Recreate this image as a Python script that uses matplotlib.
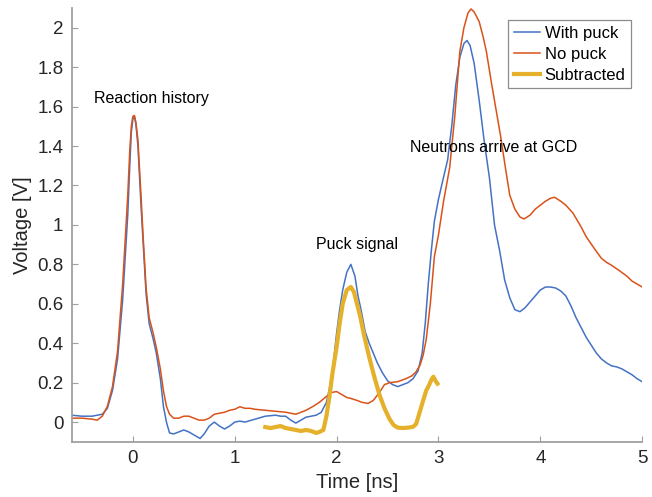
import matplotlib.pyplot as plt
import numpy as np

plt.rcParams['font.family'] = ['Liberation Sans', 'DejaVu Sans']

# ------------------- DATA -------------------
t_with = [-0.6, -0.5, -0.4, -0.3, -0.25, -0.2, -0.15, -0.1, -0.05, -0.03, -0.015, 0.0, 0.015,
          0.03, 0.05, 0.08, 0.1, 0.13, 0.16, 0.2, 0.23, 0.27, 0.3, 0.33, 0.36, 0.4, 0.45, 0.5,
          0.55, 0.6, 0.66, 0.7, 0.75, 0.8, 0.85, 0.9, 0.95, 1.0, 1.05, 1.1, 1.2, 1.3, 1.4, 1.45,
          1.5, 1.55, 1.6, 1.65, 1.7, 1.75, 1.8, 1.85, 1.9, 1.93, 1.96, 2.0, 2.03, 2.06, 2.1, 2.14,
          2.18, 2.21, 2.24, 2.28, 2.32, 2.36, 2.4, 2.45, 2.5, 2.55, 2.6, 2.65, 2.7, 2.75, 2.8,
          2.84, 2.87, 2.9, 2.93, 2.96, 3.0, 3.04, 3.09, 3.13, 3.17, 3.21, 3.25, 3.28, 3.31, 3.35,
          3.4, 3.45, 3.5, 3.55, 3.6, 3.65, 3.7, 3.75, 3.8, 3.85, 3.9, 3.95, 4.0, 4.05, 4.1, 4.15,
          4.2, 4.25, 4.3, 4.35, 4.4, 4.45, 4.5, 4.55, 4.6, 4.65, 4.7, 4.75, 4.8, 4.85, 4.9, 4.95,
          5.0]
v_with = [0.035, 0.03, 0.03, 0.04, 0.07, 0.16, 0.32, 0.62, 1.05, 1.3, 1.47, 1.535, 1.55, 1.51,
          1.4, 1.1, 0.92, 0.65, 0.5, 0.42, 0.35, 0.22, 0.08, 0.0, -0.055, -0.06, -0.05, -0.04,
          -0.05, -0.065, -0.083, -0.06, -0.02, 0.0, -0.02, -0.035, -0.02, 0.0, 0.005, 0.0, 0.015,
          0.03, 0.035, 0.03, 0.03, 0.01, -0.005, 0.01, 0.025, 0.03, 0.035, 0.05, 0.1, 0.17, 0.26,
          0.45, 0.57, 0.67, 0.76, 0.80, 0.74, 0.64, 0.57, 0.46, 0.4, 0.35, 0.3, 0.25, 0.21, 0.19,
          0.18, 0.19, 0.2, 0.22, 0.26, 0.35, 0.5, 0.7, 0.87, 1.02, 1.13, 1.22, 1.33, 1.5, 1.71,
          1.85, 1.92, 1.935, 1.91, 1.82, 1.63, 1.42, 1.24, 1.0, 0.87, 0.72, 0.63, 0.57, 0.56,
          0.58, 0.61, 0.64, 0.67, 0.685, 0.685, 0.68, 0.665, 0.64, 0.59, 0.53, 0.48, 0.43, 0.39,
          0.35, 0.32, 0.3, 0.285, 0.28, 0.27, 0.255, 0.24, 0.22, 0.205]

t_no = [-0.6, -0.5, -0.4, -0.35, -0.3, -0.25, -0.2, -0.15, -0.1, -0.05, -0.03, -0.015, 0.0,
        0.015, 0.03, 0.05, 0.08, 0.1, 0.13, 0.16, 0.2, 0.23, 0.27, 0.3, 0.33, 0.36, 0.4, 0.45,
        0.5, 0.55, 0.6, 0.65, 0.7, 0.75, 0.8, 0.85, 0.9, 0.95, 1.0, 1.05, 1.1, 1.15, 1.2, 1.3,
        1.4, 1.5, 1.6, 1.65, 1.7, 1.77, 1.83, 1.9, 1.95, 2.0, 2.05, 2.1, 2.14, 2.2, 2.25, 2.31,
        2.36, 2.42, 2.47, 2.52, 2.6, 2.68, 2.74, 2.78, 2.82, 2.85, 2.88, 2.92, 2.96, 3.0, 3.05,
        3.11, 3.16, 3.21, 3.25, 3.29, 3.32, 3.35, 3.4, 3.44, 3.47, 3.52, 3.57, 3.61, 3.66, 3.7,
        3.75, 3.8, 3.84, 3.9, 3.95, 4.0, 4.05, 4.1, 4.14, 4.2, 4.25, 4.32, 4.4, 4.45, 4.53, 4.6,
        4.65, 4.7, 4.77, 4.85, 4.9, 4.95, 5.0]
v_no = [0.02, 0.02, 0.015, 0.01, 0.03, 0.08, 0.18, 0.36, 0.7, 1.15, 1.38, 1.5, 1.55, 1.555,
        1.52, 1.43, 1.15, 0.95, 0.68, 0.53, 0.45, 0.38, 0.27, 0.16, 0.08, 0.04, 0.02, 0.02, 0.03,
        0.03, 0.02, 0.01, 0.01, 0.02, 0.04, 0.045, 0.05, 0.06, 0.065, 0.078, 0.07, 0.07, 0.065,
        0.06, 0.055, 0.05, 0.04, 0.05, 0.06, 0.08, 0.1, 0.13, 0.15, 0.155, 0.14, 0.125, 0.12,
        0.11, 0.1, 0.095, 0.11, 0.15, 0.19, 0.2, 0.205, 0.22, 0.235, 0.255, 0.29, 0.34, 0.42,
        0.6, 0.84, 0.95, 1.12, 1.29, 1.55, 1.88, 2.0, 2.075, 2.095, 2.08, 2.03, 1.95, 1.88, 1.72,
        1.57, 1.45, 1.28, 1.15, 1.08, 1.04, 1.03, 1.05, 1.08, 1.1, 1.12, 1.135, 1.14, 1.12, 1.1,
        1.06, 0.99, 0.94, 0.88, 0.83, 0.81, 0.795, 0.77, 0.74, 0.715, 0.7, 0.685]

t_sub = [1.3, 1.35, 1.4, 1.45, 1.5, 1.55, 1.6, 1.65, 1.7, 1.75, 1.8, 1.83, 1.87, 1.9, 1.93, 1.96,
         2.0, 2.03, 2.06, 2.1, 2.14, 2.17, 2.2, 2.23, 2.27, 2.32, 2.37, 2.42, 2.47, 2.52, 2.56,
         2.6, 2.65, 2.7, 2.75, 2.78, 2.81, 2.85, 2.88, 2.91, 2.93, 2.95, 2.97, 2.99]
v_sub = [-0.025, -0.03, -0.025, -0.02, -0.03, -0.035, -0.04, -0.045, -0.04, -0.045, -0.055,
         -0.05, -0.04, 0.03, 0.13, 0.25, 0.38, 0.5, 0.6, 0.67, 0.685, 0.66, 0.6, 0.54, 0.44,
         0.33, 0.23, 0.14, 0.07, 0.015, -0.015, -0.028, -0.03, -0.028, -0.024, -0.01, 0.04,
         0.11, 0.16, 0.19, 0.215, 0.23, 0.21, 0.195]

# ------------------- PLOT -------------------
fig = plt.figure(figsize=(6.52, 4.97), dpi=100)
ax = fig.add_axes([0.110, 0.111, 0.875, 0.873])

ax.plot(t_with, v_with, color="#4472C4", lw=1.1, label="With puck")
ax.plot(t_no, v_no, color="#D95319", lw=1.1, label="No puck")
ax.plot(t_sub, v_sub, color="#E5B02A", lw=3.0, label="Subtracted")

ax.set_xlim(-0.6, 5)
ax.set_ylim(-0.1, 2.1)
ax.set_xticks([0, 1, 2, 3, 4, 5])
ax.set_yticks(np.arange(0, 2.01, 0.2))
ax.set_yticklabels(["0", "0.2", "0.4", "0.6", "0.8", "1", "1.2", "1.4", "1.6", "1.8", "2"])

for side in ["top", "right"]:
    ax.spines[side].set_visible(False)
for side in ["left", "bottom"]:
    ax.spines[side].set_color("#a0a0a0")
    ax.spines[side].set_linewidth(1.3)
ax.tick_params(direction="in", length=4, width=0.8, color="#a0a0a0",
               labelsize=13.5, labelcolor="#262626", pad=6)

ax.set_xlabel("Time [ns]", fontsize=14.5, color="#262626", labelpad=4)
ax.set_ylabel("Voltage [V]", fontsize=14.5, color="#262626", labelpad=4)

ax.text(0.18, 1.64, "Reaction history", fontsize=11.5, ha="center", va="center")
ax.text(2.2, 0.9, "Puck signal", fontsize=11.5, ha="center", va="center")
ax.text(3.54, 1.39, "Neutrons arrive at GCD", fontsize=11.5, ha="center", va="center")

leg = ax.legend(loc="upper right", bbox_to_anchor=(0.981, 0.972), fontsize=12,
                handlelength=1.55, handletextpad=0.3, borderpad=0.35, labelspacing=0.35,
                fancybox=False, framealpha=1, borderaxespad=0)
leg.get_frame().set_edgecolor("#8c8c8c")
leg.get_frame().set_linewidth(0.9)

fig.savefig("out.png", dpi=100)
